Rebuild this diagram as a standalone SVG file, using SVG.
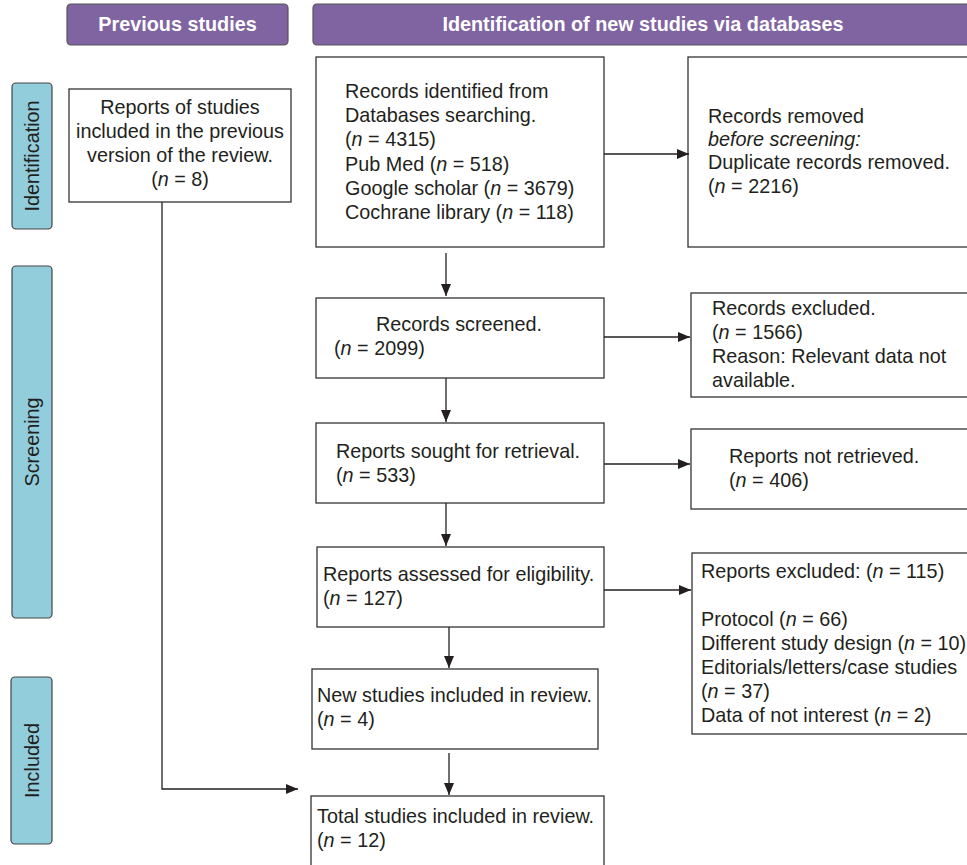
<svg xmlns="http://www.w3.org/2000/svg" width="967" height="865" viewBox="0 0 967 865">
<style>
text{font-family:"Liberation Sans",Arial,sans-serif;font-size:19.8px;fill:#231f20}
.hdr rect{fill:#8064a2;stroke:#555;stroke-width:1.2}
.hdr text{fill:#fff;font-weight:bold;text-anchor:middle}
.tab rect{fill:#92cddc;stroke:#444;stroke-width:1.2}
.tab text{text-anchor:middle}
.box rect{fill:#fff;stroke:#333;stroke-width:1.3}
.c{text-anchor:middle}
.i{font-style:italic}
#connectors path{fill:none;stroke:#231f20;stroke-width:1.3}
</style>
<defs>
<marker id="ah" viewBox="0 0 12 10" refX="12" refY="5" markerWidth="12" markerHeight="10" markerUnits="userSpaceOnUse" orient="auto">
<path d="M0,0 L12,5 L0,10 z" fill="#231f20"/>
</marker>
</defs>
<rect width="967" height="865" fill="#fff"/>

<g id="hdr-previous" class="hdr">
<rect x="67" y="4" width="221" height="41" rx="4"/>
<text x="177.5" y="31">Previous studies</text>
</g>
<g id="hdr-new" class="hdr">
<rect x="313" y="4" width="665" height="41" rx="4"/>
<text x="643" y="31">Identification of new studies via databases</text>
</g>

<g id="tab-identification" class="tab">
<rect x="12" y="83" width="40" height="146" rx="4"/>
<text transform="translate(39,156) rotate(-90)">Identification</text>
</g>
<g id="tab-screening" class="tab">
<rect x="12" y="266" width="40" height="352" rx="4"/>
<text transform="translate(39,442) rotate(-90)">Screening</text>
</g>
<g id="tab-included" class="tab">
<rect x="11" y="677" width="41" height="167" rx="4"/>
<text transform="translate(39,760.5) rotate(-90)">Included</text>
</g>

<g id="prev-reports" class="box">
<rect x="69" y="89" width="222" height="113"/>
<text class="c" x="180" y="114">Reports of studies</text>
<text class="c" x="180" y="138">included in the previous</text>
<text class="c" x="180" y="162">version of the review.</text>
<text class="c" x="180" y="186">(<tspan class="i">n</tspan> = 8)</text>
</g>

<g id="records-identified" class="box">
<rect x="316" y="57" width="288" height="190"/>
<text x="345" y="98">Records identified from</text>
<text x="345" y="122">Databases searching.</text>
<text x="345" y="146">(<tspan class="i">n</tspan> = 4315)</text>
<text x="345" y="171">Pub Med (<tspan class="i">n</tspan> = 518)</text>
<text x="345" y="195">Google scholar (<tspan class="i">n</tspan> = 3679)</text>
<text x="345" y="219">Cochrane library (<tspan class="i">n</tspan> = 118)</text>
</g>

<g id="records-removed" class="box">
<rect x="688" y="57" width="300" height="190"/>
<text x="708" y="123">Records removed</text>
<text x="708" y="146" class="i">before screening:</text>
<text x="708" y="169">Duplicate records removed.</text>
<text x="708" y="193">(<tspan class="i">n</tspan> = 2216)</text>
</g>

<g id="records-screened" class="box">
<rect x="316" y="298" width="288" height="80"/>
<text x="376" y="331">Records screened.</text>
<text x="334" y="355">(<tspan class="i">n</tspan> = 2099)</text>
</g>

<g id="records-excluded" class="box">
<rect x="691" y="293" width="300" height="104"/>
<text x="712" y="315">Records excluded.</text>
<text x="712" y="339">(<tspan class="i">n</tspan> = 1566)</text>
<text x="712" y="363">Reason: Relevant data not</text>
<text x="712" y="387">available.</text>
</g>

<g id="reports-sought" class="box">
<rect x="316" y="423" width="288" height="80"/>
<text x="336" y="458">Reports sought for retrieval.</text>
<text x="336" y="482">(<tspan class="i">n</tspan> = 533)</text>
</g>

<g id="reports-not-retrieved" class="box">
<rect x="691" y="429" width="300" height="80"/>
<text x="729" y="463">Reports not retrieved.</text>
<text x="729" y="487">(<tspan class="i">n</tspan> = 406)</text>
</g>

<g id="reports-assessed" class="box">
<rect x="317" y="547" width="287" height="80"/>
<text x="323" y="581">Reports assessed for eligibility.</text>
<text x="323" y="605">(<tspan class="i">n</tspan> = 127)</text>
</g>

<g id="reports-excluded" class="box">
<rect x="692" y="553" width="300" height="181"/>
<text x="701" y="578">Reports excluded: (<tspan class="i">n</tspan> = 115)</text>
<text x="701" y="626">Protocol (<tspan class="i">n</tspan> = 66)</text>
<text x="701" y="650">Different study design (<tspan class="i">n</tspan> = 10)</text>
<text x="701" y="674">Editorials/letters/case studies</text>
<text x="701" y="698">(<tspan class="i">n</tspan> = 37)</text>
<text x="701" y="722">Data of not interest (<tspan class="i">n</tspan> = 2)</text>
</g>

<g id="new-studies" class="box">
<rect x="312" y="669" width="286" height="80"/>
<text x="317" y="702">New studies included in review.</text>
<text x="317" y="726">(<tspan class="i">n</tspan> = 4)</text>
</g>

<g id="total-studies" class="box">
<rect x="311" y="796" width="293" height="90"/>
<text x="317" y="823">Total studies included in review.</text>
<text x="317" y="847">(<tspan class="i">n</tspan> = 12)</text>
</g>

<g id="connectors">
<path d="M604,154 H689" marker-end="url(#ah)"/>
<path d="M446,253 V296" marker-end="url(#ah)"/>
<path d="M604,337 H690" marker-end="url(#ah)"/>
<path d="M446,378 V422" marker-end="url(#ah)"/>
<path d="M604,464 H690" marker-end="url(#ah)"/>
<path d="M446,503 V546" marker-end="url(#ah)"/>
<path d="M604,590 H691" marker-end="url(#ah)"/>
<path d="M449,627 V668" marker-end="url(#ah)"/>
<path d="M449,753 V795" marker-end="url(#ah)"/>
<path d="M162,202 V789 H298" marker-end="url(#ah)"/>
</g>
</svg>
